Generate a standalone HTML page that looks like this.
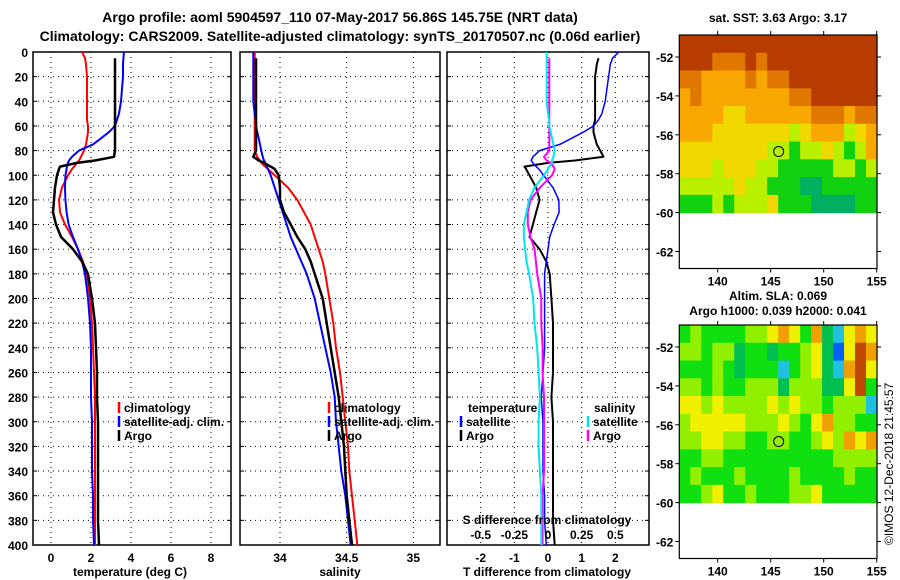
<!DOCTYPE html>
<html><head><meta charset="utf-8">
<style>
html,body{margin:0;padding:0;background:#fff;}
svg{display:block;font-family:"Liberation Sans",Arial,sans-serif;font-weight:bold;}
</style></head>
<body>
<svg id="fig" width="900" height="580" viewBox="0 0 900 580" xmlns="http://www.w3.org/2000/svg">
<text x="340" y="22" font-size="14" text-anchor="middle">Argo profile: aoml 5904597_110 07-May-2017 56.86S 145.75E (NRT data)</text>
<text x="340" y="41" font-size="14" text-anchor="middle">Climatology: CARS2009. Satellite-adjusted climatology: synTS_20170507.nc (0.06d earlier)</text>
<g id="plots"></g>
<text x="778" y="22" font-size="12" text-anchor="middle">sat. SST: 3.63 Argo: 3.17</text>
<text x="778" y="300" font-size="12" text-anchor="middle">Altim. SLA: 0.069</text>
<text x="778" y="315" font-size="12" text-anchor="middle">Argo h1000: 0.039 h2000: 0.041</text>
<text transform="translate(893,545) rotate(-90)" font-size="12" font-weight="normal">©IMOS 12-Dec-2018 21:45:57</text>
</svg>
<script>
// ---- profile data ----
const depths = [0,5,10,20,30,40,50,55,60,65,70,75,80,85,88,90,93,95,100,110,120,130,140,150,160,170,180,200,220,240,260,280,300,320,340,360,380,400];
const tClim = [1.55,1.7,1.75,1.8,1.8,1.8,1.8,1.8,1.85,1.85,1.8,1.75,1.65,1.5,1.4,1.3,1.15,1.05,0.85,0.55,0.4,0.45,0.7,1.05,1.35,1.6,1.8,1.95,2.05,2.1,2.15,2.2,2.2,2.2,2.2,2.2,2.2,2.2];
const tSat = [3.65,3.62,3.6,3.6,3.55,3.5,3.4,3.3,3.2,2.9,2.5,2.1,1.4,1.05,0.9,0.85,0.8,0.78,0.72,0.7,0.72,0.78,0.88,1.1,1.35,1.55,1.7,1.85,1.95,2.0,2.0,2.0,2.05,2.05,2.05,2.1,2.1,2.15];
const tArgo = [null,3.2,3.2,3.2,3.2,3.2,3.2,3.2,3.2,3.2,3.2,3.2,3.2,3.15,2.2,1.3,0.45,0.4,0.3,0.2,0.15,0.1,0.25,0.5,1.1,1.55,1.85,2.05,2.2,2.25,2.3,2.3,2.35,2.35,2.35,2.35,2.35,2.4];
const sClim = [33.81,33.81,33.81,33.81,33.81,33.81,33.81,33.81,33.81,33.81,33.81,33.81,33.81,33.83,33.85,33.86,33.89,33.91,33.96,34.06,34.13,34.18,34.23,34.26,34.29,34.32,34.34,34.37,34.4,34.42,34.45,34.47,34.49,34.51,34.52,34.54,34.56,34.58];
const sSat = [33.8,33.8,33.8,33.8,33.8,33.8,33.81,33.82,33.82,33.83,33.84,33.85,33.86,33.87,33.88,33.89,33.9,33.91,33.93,33.96,33.99,34.02,34.05,34.08,34.12,34.16,34.2,34.26,34.3,34.34,34.38,34.41,34.42,34.44,34.46,34.49,34.51,34.53];
const sArgo = [null,33.82,33.82,33.82,33.82,33.82,33.82,33.82,33.82,33.82,33.82,33.82,33.82,33.8,33.84,33.88,33.93,33.96,33.99,34.0,34.0,34.03,34.08,34.13,34.19,34.23,34.26,34.32,34.35,34.38,34.41,34.44,34.46,34.48,34.49,34.5,34.52,34.54];
const depthTicks = [0,20,40,60,80,100,120,140,160,180,200,220,240,260,280,300,320,340,360,380,400];
const tTicks = [0,2,4,6,8];
const sTicks = [34,34.5,35];
const dTTicks = [-2,-1,0,1,2];
const dSTicks = [-0.5,-0.25,0,0.25,0.5];
const dSTickLabels = ["-0.5","-0.25","0","0.25","0.5"];
// ---- map data (colour levels) ----
const sstGrid = [
[6,6,6,6,6,6,6,6,6,6,6,6,6,6,6,6,6,6],
[6,6,6,5,5,5,6,5,6,6,6,6,6,6,6,6,6,6],
[5,5,4,4,4,4,5,4,5,5,6,6,6,6,6,6,6,6],
[4,5,4,4,4,4,4,4,4,4,5,5,6,6,6,6,6,6],
[4,4,4,4,3,3,4,4,4,4,4,4,5,5,5,4,5,5],
[4,4,4,3,3,3,3,3,3,3,2,3,4,4,4,2,3,4],
[3,3,3,3,3,3,3,3,2,2,1,2,2,3,2,1,2,4],
[3,3,3,2,3,3,3,2,2,1,1,1,1,1,2,2,1,2],
[2,2,2,2,2,3,2,2,1,1,1,0,0,1,1,1,1,1],
[1,1,1,2,1,2,2,2,3,1,1,1,0,0,0,0,1,1]];
const slaGrid = [
[3,4,3,3,3,3,4,4,5,6,5,3,6,2,1,5,6,5],
[4,4,3,4,4,2,3,3,2,3,3,4,5,2,0,5,7,6],
[3,3,3,4,3,2,3,3,3,1,3,4,5,2,1,6,7,5],
[4,4,3,4,3,3,4,4,4,2,4,4,4,2,2,5,7,3],
[5,5,4,5,4,4,4,4,5,4,5,4,4,3,4,4,4,1],
[4,5,5,5,5,5,4,4,4,5,4,3,5,6,4,4,3,3],
[4,4,5,5,4,4,3,3,4,4,3,3,4,5,4,6,5,6],
[3,3,4,4,3,3,3,3,3,3,3,3,3,3,4,4,4,4],
[3,4,3,3,3,4,3,3,3,3,4,3,3,3,3,4,3,3],
[3,3,4,5,3,3,4,3,3,3,4,4,5,3,3,3,3,3]];
const latTicks = [-52,-54,-56,-58,-60,-62];
const lonTicks = [140,145,150,155];
const argoLat = -56.86, argoLon = 145.75;

const NS = "http://www.w3.org/2000/svg";
const root = document.getElementById('plots');
function mk(tag, attrs, parent){const e=document.createElementNS(NS,tag);for(const k in attrs)e.setAttribute(k,attrs[k]);(parent||root).appendChild(e);return e;}
function txt(x,y,s,size,anchor,parent){const t=mk('text',{x:x,y:y,'font-size':size,'text-anchor':anchor||'middle'},parent);t.textContent=s;return t;}

const Y0=52, Y1=545;
const yD = d => Y0 + (d/400)*(Y1-Y0);

function panel(name, x0, x1, vmin, vmax){
  const g = mk('g',{});
  
  
  const xs = v => x0 + (v-vmin)/(vmax-vmin)*(x1-x0);
  return {g, xs, x0, x1};
}
function grid(p, xticks){
  depthTicks.forEach(d=>{ if(d>0&&d<400){const l=mk('line',{x1:p.x0,x2:p.x1,y1:yD(d),y2:yD(d),stroke:'#000','stroke-width':1,'stroke-dasharray':'1,4'},p.g);
    
    }
    mk('line',{x1:p.x0,x2:p.x0+4,y1:yD(d),y2:yD(d),stroke:'#000'},p.g);
    mk('line',{x1:p.x1-4,x2:p.x1,y1:yD(d),y2:yD(d),stroke:'#000'},p.g);
  });
  xticks.forEach(v=>{const l=mk('line',{x1:p.xs(v),x2:p.xs(v),y1:Y0,y2:Y1,stroke:'#000','stroke-width':1,'stroke-dasharray':'1,4'},p.g);
    
    });
  const b=mk('rect',{x:p.x0,y:Y0,width:p.x1-p.x0,height:Y1-Y0,fill:'none',stroke:'#000','stroke-width':1.5},p.g);
  
  
}
function line(p, vals, color, name, w){
  let d=''; let pen=false;
  vals.forEach((v,i)=>{ if(v===null||isNaN(v)){pen=false;return;} d+=(pen?'L':'M')+p.xs(v).toFixed(1)+','+yD(depths[i]).toFixed(1); pen=true;});
  const e=mk('path',{d:d,fill:'none',stroke:color,'stroke-width':w||2,'stroke-linejoin':'round'},p.g);
  
  
}
function legend(p, x, y, items){
  items.forEach((it,i)=>{
    const yy=y+i*14;
    const b=mk('line',{x1:x,x2:x,y1:yy-10,y2:yy+1,stroke:it[1],'stroke-width':2.5},p.g);
    
    
    const t=txt(x+5,yy,it[0],12,'start',p.g);
    
    
  });
}

// Panel 1: temperature
const p1 = panel('temperature-panel', 33, 231, -0.9, 9);
grid(p1, tTicks);
depthTicks.forEach(d=>{const t=txt(28,yD(d)+5,String(d),12,'end',p1.g);
  
  });
tTicks.forEach(v=>{const t=txt(p1.xs(v),562,String(v),12,'middle',p1.g);
  
  });
line(p1,tClim,'#ff0000','temperature-climatology-line');
line(p1,tSat,'#0000ff','temperature-satellite-line');
line(p1,tArgo,'#000000','temperature-argo-line',2.5);
legend(p1,119,412,[['climatology','#f00','climatology'],['satellite-adj. clim.','#00f','satellite'],['Argo','#000','argo']]);
{const t=txt(130,576,'temperature (deg C)',12,'middle',p1.g);

}

// Panel 2: salinity
const p2 = panel('salinity-panel', 240, 440, 33.7, 35.2);
grid(p2, sTicks);
sTicks.forEach(v=>{const t=txt(p2.xs(v),562,String(v),12,'middle',p2.g);
  
  });
line(p2,sClim,'#ff0000','salinity-climatology-line');
line(p2,sSat,'#0000ff','salinity-satellite-line');
line(p2,sArgo,'#000000','salinity-argo-line',2.5);
legend(p2,329,412,[['climatology','#f00','climatology'],['satellite-adj. clim.','#00f','satellite'],['Argo','#000','argo']]);
{const t=txt(340,576,'salinity',12,'middle',p2.g);

}

// Panel 3: differences
const p3 = panel('difference-panel', 447, 649, -3, 3);
const p3s = {g:p3.g, xs: v => 447 + (v+0.75)/1.5*(649-447)};
grid(p3, dTTicks);
const dTSat = tSat.map((v,i)=>v-tClim[i]);
const dTArgo = tArgo.map((v,i)=>v===null?null:v-tClim[i]);
const dSSat = sSat.map((v,i)=>v-sClim[i]);
const dSArgo = sArgo.map((v,i)=>v===null?null:v-sClim[i]);
line(p3,dTArgo,'#000000','t-diff-argo-line',2);
line(p3,dTSat,'#0000ff','t-diff-satellite-line',1.5);
line(p3s,dSArgo,'#ff00ff','s-diff-argo-line',2);
line(p3s,dSSat,'#00e5ee','s-diff-satellite-line',2);
dTTicks.forEach(v=>{const t=txt(p3.xs(v),562,String(v),12,'middle',p3.g);
  
  });
dSTicks.forEach((v,i)=>{const t=txt(p3s.xs(v),539,dSTickLabels[i],12,'middle',p3.g);
  
  });
{const t=txt(547,524,'S difference from climatology',12,'middle',p3.g);


const t2=txt(547,576,'T difference from climatology',12,'middle',p3.g);


const h1=txt(468,412,'temperature',12,'start',p3.g);


const h2=txt(594,412,'salinity',12,'start',p3.g);

}
legend(p3,461,426,[['satellite','#00f','t-satellite'],['Argo','#000','t-argo']]);
legend(p3,588,426,[['satellite','#00e5ee','s-satellite'],['Argo','#f0f','s-argo']]);

// Maps
const sstColors = ['#00b060','#10d010','#b8f000','#f0d800','#f8a800','#e07800','#b83c00'];
const slaColors = ['#0060ff','#20c0e0','#00c050','#10e010','#90f000','#f0f000','#f0a000','#c04800'];
function drawMap(name, top, gridData, colors){
  const g=mk('g',{});
  
  
  const L=679.3, R=877;
  const xl = lon => 717.7 + (lon-140)*10.6;
  const yl = lat => top + 22 + (-52-lat)*19.45;
  const rows=gridData.length, cols=gridData[0].length;
  const cw=(R-L)/cols, ch=(yl(-60)-top)/rows;
  gridData.forEach((row,r)=>row.forEach((v,c)=>{
    const cell=mk('rect',{x:(L+c*cw).toFixed(2),y:(top+r*ch).toFixed(2),width:(cw+0.6).toFixed(2),height:(ch+0.6).toFixed(2),fill:colors[v]},g);
    
    
  }));
  const bottom = yl(-62)+17;
  const fr=mk('rect',{x:L,y:top,width:R-L,height:bottom-top,fill:'none',stroke:'#000','stroke-width':1.2},g);
  
  
  latTicks.forEach(lat=>{mk('line',{x1:L-4,x2:L,y1:yl(lat),y2:yl(lat),stroke:'#000'},g);
    mk('line',{x1:R,x2:R+4,y1:yl(lat),y2:yl(lat),stroke:'#000'},g);
    const t=txt(L-6,yl(lat)+5,String(lat),12,'end',g);
    
    });
  lonTicks.forEach(lon=>{mk('line',{x1:xl(lon),x2:xl(lon),y1:top-4,y2:top,stroke:'#000'},g);
    mk('line',{x1:xl(lon),x2:xl(lon),y1:bottom,y2:bottom+4,stroke:'#000'},g);
    const t=txt(xl(lon),bottom+17,String(lon),12,'middle',g);
    
    });
  const m=mk('circle',{cx:xl(argoLon),cy:yl(argoLat),r:5,fill:'none',stroke:'#000','stroke-width':1},g);
  
  
}
drawMap('sst-map',35,sstGrid,sstColors);
drawMap('sla-map',325,slaGrid,slaColors);
</script>
</body></html>
